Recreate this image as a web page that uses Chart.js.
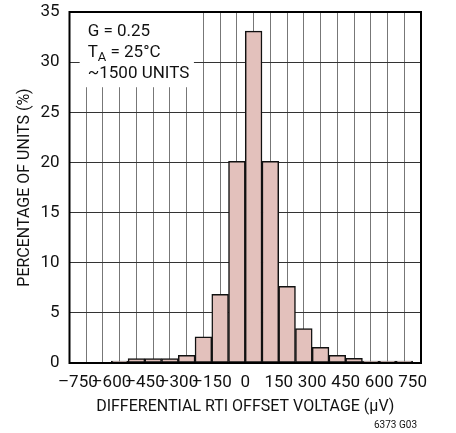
<!DOCTYPE html>
<html>
<head>
<meta charset="utf-8">
<script src="https://cdn.jsdelivr.net/npm/chart.js@4/dist/chart.umd.min.js"></script>
<style>
  html, body { margin: 0; padding: 0; background: #fff; }
  canvas { display: block; }
</style>
</head>
<body>
<canvas id="myChart" width="456" height="433"></canvas>
<script>
// histogram bins, 75uV wide, left edges from -750 to 675
var binLeft = [-750, -675, -600, -525, -450, -375, -300, -225, -150, -75,
               0, 75, 150, 225, 300, 375, 450, 525, 600, 675];
var percentUnits = [0, 0, 0.2, 0.43, 0.43, 0.43, 0.77, 2.6, 6.85, 20.1,
                    33.1, 20.1, 7.65, 3.42, 1.56, 0.77, 0.47, 0.2, 0.2, 0.2];
var binWidth = 75;
var xTickLabels = [-750, -600, -450, -300, -150, 0, 150, 300, 450, 600, 750];
var noteLines = ["G = 0.25", "T|A| = 25°C", "~1500 UNITS"];
var partNumber = "6373 G03";

var FONT = "Roboto, 'Liberation Sans', sans-serif";

var histData = binLeft.map(function (left, i) {
    return { x: left + binWidth / 2, y: percentUnits[i] };
});

function fmt(v) {
    return v < 0 ? "\u2013" + Math.abs(v) : String(v);
}

// white note box + frame + part number
var extras = {
    id: "extras",
    beforeDatasetsDraw: function (chart) {
        var c = chart.ctx, xs = chart.scales.x, ys = chart.scales.y;
        var x0 = xs.getPixelForValue(-742), x1 = xs.getPixelForValue(-230);
        var y0 = ys.getPixelForValue(35), y1 = ys.getPixelForValue(27.5);
        c.save();
        c.fillStyle = "#fff";
        c.fillRect(x0, y0, x1 - x0, y1 - y0);
        c.fillStyle = "#111";
        c.textBaseline = "middle";
        var lx = x0 + 8, ly = y0 + 20;
        noteLines.forEach(function (line, i) {
            var parts = line.split("|");
            var px = lx, py = ly + i * 21;
            parts.forEach(function (p, j) {
                if (j === 1) {
                    c.font = "13px " + FONT;
                    c.fillText(p, px, py + 5);
                } else {
                    c.font = "17px " + FONT;
                    c.fillText(p, px, py);
                }
                px += c.measureText(p).width;
            });
        });
        c.restore();
    },
    afterDraw: function (chart) {
        var c = chart.ctx, a = chart.chartArea;
        c.save();
        c.strokeStyle = "#000";
        c.lineWidth = 2;
        c.strokeRect(a.left, a.top, a.right - a.left, a.bottom - a.top);
        c.fillStyle = "#111";
        c.font = "10px " + FONT;
        c.textAlign = "right";
        c.textBaseline = "middle";
        c.fillText(partNumber, a.right - 4, 425);
        c.restore();
    }
};

var ctx = document.getElementById("myChart").getContext("2d");
var myChart = new Chart(ctx, {
    type: "bar",
    data: {
        datasets: [{
            data: histData,
            backgroundColor: "#e3c1bc",
            borderColor: "#111",
            borderWidth: 1.5,
            borderSkipped: false,
            barPercentage: 1,
            categoryPercentage: 1
        }]
    },
    options: {
        responsive: false,
        animation: false,
        plugins: { legend: { display: false }, tooltip: { enabled: false } },
        layout: { padding: { top: 12, right: 35, left: 0, bottom: 0 } },
        scales: {
            x: {
                type: "linear",
                min: -750,
                max: 750,
                afterBuildTicks: function (scale) {
                    var t = [];
                    for (var v = -750; v <= 750; v += 75) t.push({ value: v });
                    scale.ticks = t;
                },
                afterFit: function (scale) {
                    scale.height = 70;
                    scale.paddingLeft = 0;
                    scale.paddingRight = 0;
                },
                grid: { color: "#777", lineWidth: 1, drawTicks: false },
                border: { display: false },
                ticks: {
                    autoSkip: false,
                    maxRotation: 0,
                    padding: 10,
                    color: "#111",
                    font: { family: FONT, size: 17 },
                    callback: function (v) {
                        return xTickLabels.indexOf(v) >= 0 ? fmt(v) : "";
                    }
                },
                title: {
                    display: true,
                    text: "DIFFERENTIAL RTI OFFSET VOLTAGE (µV)",
                    color: "#111",
                    font: { family: FONT, size: 16 },
                    padding: { top: 0, bottom: 16 }
                }
            },
            y: {
                min: 0,
                max: 35,
                afterFit: function (scale) {
                    scale.width = 69.5;
                    scale.paddingTop = 0;
                    scale.paddingBottom = 0;
                },
                grid: { color: "#333", lineWidth: 1, drawTicks: false },
                border: { display: false },
                ticks: {
                    stepSize: 5,
                    padding: 10,
                    color: "#111",
                    font: { family: FONT, size: 17 }
                },
                title: {
                    display: true,
                    text: "PERCENTAGE OF UNITS (%)",
                    color: "#111",
                    font: { family: FONT, size: 16 },
                    padding: { top: 15, bottom: 0 }
                }
            }
        }
    },
    plugins: [extras]
});
</script>
</body>
</html>
